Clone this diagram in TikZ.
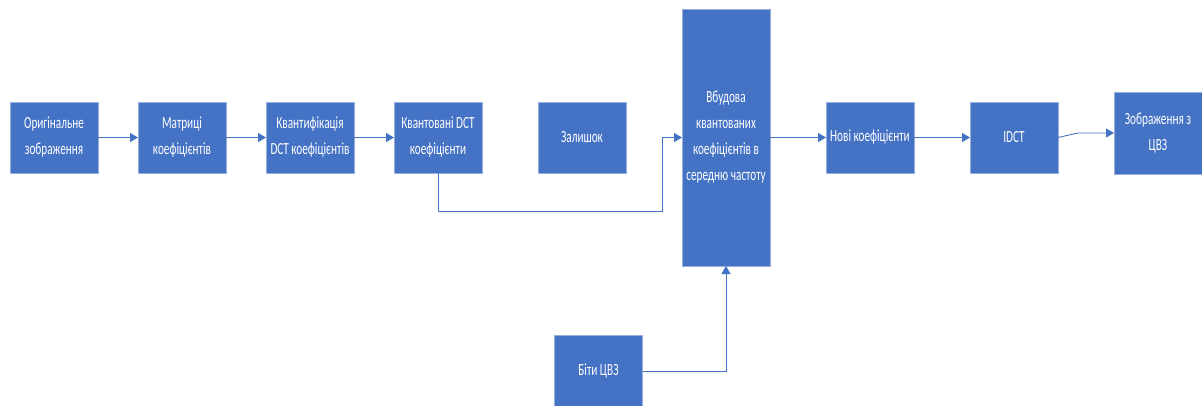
\documentclass[tikz,border=0pt]{standalone}
\usepackage{fontspec}
\setmainfont[FakeStretch=0.66]{Carlito}
\usetikzlibrary{arrows.meta,positioning}
\definecolor{officeblue}{RGB}{68,114,196}
\definecolor{edgeblue}{RGB}{150,175,220}
\tikzset{
  block/.style={
    draw=edgeblue,
    line width=0.8pt,
    fill=officeblue,
    text=white,
    align=center,
    minimum width=88pt,
    minimum height=71pt,
    inner sep=2pt,
    outer sep=0pt,
    font=\fontsize{17}{26}\selectfont
  },
  tallblock/.style={block, minimum height=257pt},
  arrow/.style={-{Triangle[length=8pt,width=9pt]}, line width=0.9pt, draw=officeblue}
}
\begin{document}
\begin{tikzpicture}[x=1pt,y=1pt,node distance=40pt]
  \useasboundingbox (0,0) rectangle (1202,-405);
  \node[block] (orig) at (54,-137.5) {Оригінальне\\зображення};
  \node[block, right=of orig] (matr) {Матриці\\коефіцієнтів};
  \node[block, right=of matr] (quant) {Квантифікація\\DCT коефіцієнтів};
  \node[block, right=of quant] (qdct) {Квантовані DCT\\коефіцієнти};
  \node[block, right=56pt of qdct] (rest) {Залишок};
  \node[tallblock, right=56pt of rest] (embed) {Вбудова\\квантованих\\коефіцієнтів в\\середню частоту};
  \node[block, right=56pt of embed] (newc) {Нові коефіцієнти};
  \node[block, right=56pt of newc] (idct) {IDCT};
  \node[block, minimum height=82pt, right=56pt of idct, yshift=4.5pt] (out) {Зображення з\\ЦВЗ};
  \node[block] (bits) at (598.5,-371) {Біти ЦВЗ};
  \coordinate (bend) at (662,-211);
  \coordinate (kink) at (1078,-133);
  \draw[arrow] (orig) -- (matr);
  \draw[arrow] (matr) -- (quant);
  \draw[arrow] (quant) -- (qdct);
  \draw[arrow] (qdct.south) |- (bend) |- (embed.west);
  \draw[arrow] (bits.east) -| (embed.south);
  \draw[arrow] (embed) -- (newc);
  \draw[arrow] (newc) -- (idct);
  \draw[arrow] (idct.east) -- (kink) -- (out.west);
\end{tikzpicture}
\end{document}
